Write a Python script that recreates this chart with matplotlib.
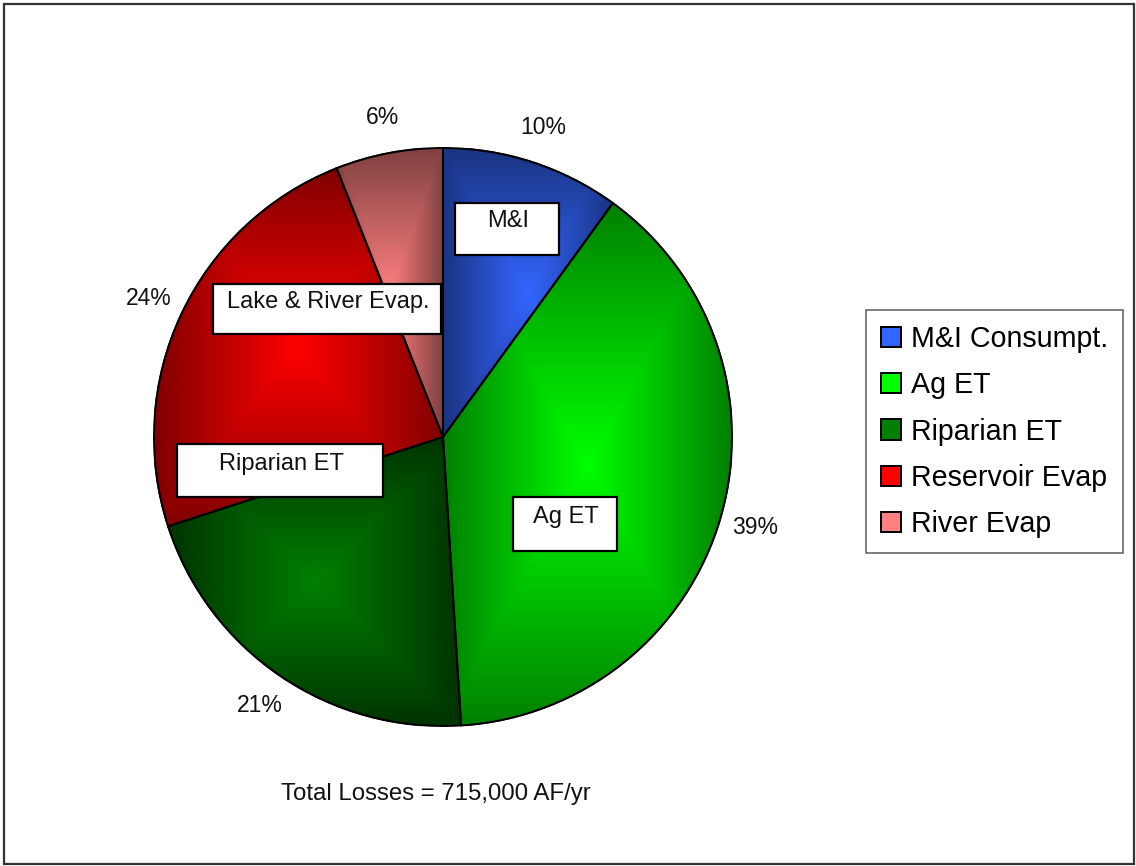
import numpy as np
import matplotlib
matplotlib.use("Agg")
import matplotlib.pyplot as plt
from matplotlib.patches import Wedge, Rectangle
from matplotlib.colors import to_rgb

plt.rcParams['font.family'] = ['Liberation Sans', 'DejaVu Sans']

# share of total consumptive losses (percent)
names = ['M&I Consumpt.', 'Ag ET', 'Riparian ET', 'Reservoir Evap', 'River Evap']
shares = [10, 39, 21, 24, 6]
bright = ['#3366ff', '#00ff00', '#008000', '#ff0000', '#ff8080']
dark = ['#1a3380', '#008000', '#003300', '#800000', '#804040']
total_text = 'Total Losses = 715,000 AF/yr'

W, H = 1136, 866
fig = plt.figure(figsize=(W / 100, H / 100), dpi=100)

# pie sits in a square axes, center (443, 437) px, radius 289 px
cx, cy, r = 443, 437, 289
ax = fig.add_axes([(cx - r) / W, (H - cy - r) / H, 2 * r / W, 2 * r / H])

wedges, _, pcts = ax.pie(shares, colors=bright, startangle=90, counterclock=False,
                         autopct='%1.0f%%', pctdistance=1.125,
                         wedgeprops=dict(edgecolor='black', linewidth=1.4),
                         textprops=dict(fontsize=16.5, color='#111111'))

# "from center" gradient over each slice's bounding box
n = 700
g = np.linspace(-1, 1, n)
X, Y = np.meshgrid(g, g)
for w, c1, c2 in zip(wedges, bright, dark):
    bb = w.get_path().get_extents()
    mx, my = (bb.x0 + bb.x1) / 2, (bb.y0 + bb.y1) / 2
    hw, hh = bb.width / 2, bb.height / 2
    t = np.clip(np.maximum(np.abs(X - mx) / hw, np.abs(Y - my) / hh), 0, 1)
    a, b = np.array(to_rgb(c1)), np.array(to_rgb(c2))
    img = a * (1 - t[..., None]) + b * t[..., None]
    im = ax.imshow(img, extent=(-1, 1, -1, 1), origin='lower',
                   interpolation='bilinear', zorder=2)
    im.set_clip_path(w)
    ax.add_patch(Wedge((0, 0), 1, w.theta1, w.theta2, fill=False,
                       edgecolor='black', linewidth=1.4, zorder=3))

ax.set_xlim(-1, 1)
ax.set_ylim(-1, 1)
ax.set_aspect('equal')
ax.axis('off')

# overlay in pixel coordinates for the frame and callout boxes
ov = fig.add_axes([0, 0, 1, 1], zorder=5)
ov.set_xlim(0, W)
ov.set_ylim(H, 0)
ov.axis('off')
ov.patch.set_alpha(0)
ov.add_patch(Rectangle((4, 4), 1130, 860, fill=False, edgecolor='#333333', linewidth=1.6))

boxes = [
    ('M&I', (455, 203, 559, 255), 508, 227),
    ('Lake & River Evap.', (213, 284, 441, 334), 328, 308),
    ('Riparian ET', (177, 444, 383, 497), 281, 470),
    ('Ag ET', (513, 497, 617, 551), 566, 523),
]
for txt, (x0, y0, x1, y1), tx, ty in boxes:
    ov.add_patch(Rectangle((x0, y0), x1 - x0, y1 - y0, facecolor='white',
                           edgecolor='black', linewidth=1.6))
    ov.text(tx, ty, txt, ha='center', va='baseline', fontsize=17, color='#111111')

ov.text(436, 800, total_text, ha='center', va='baseline', fontsize=17.3, color='#111111')

leg = fig.legend(wedges, names, loc='upper left',
                 bbox_to_anchor=(866 / W, 1 - 310 / H), borderaxespad=0,
                 fontsize=20.6, frameon=True, fancybox=False, edgecolor='#333333',
                 handlelength=0.72, handleheight=0.72, handletextpad=0.33,
                 labelspacing=0.64, borderpad=0.52)
leg.get_frame().set_linewidth(1.1)
leg.set_zorder(6)

fig.savefig('out.png', dpi=100, facecolor='white')
